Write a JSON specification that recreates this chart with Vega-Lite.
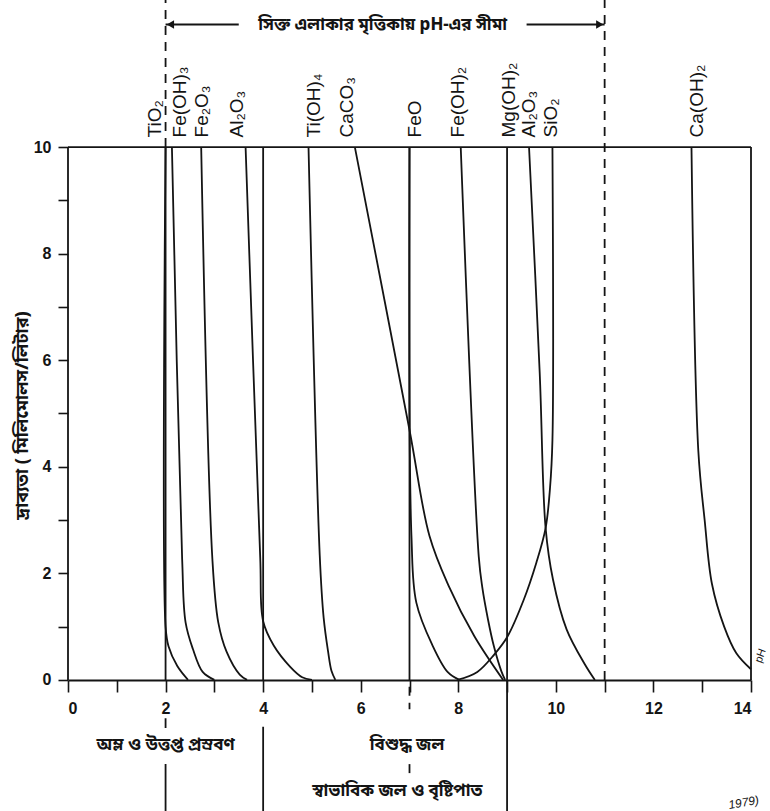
{
  "$schema": "https://vega.github.io/schema/vega-lite/v6.json",
  "width": 683,
  "height": 811,
  "autosize": {"type": "none"},
  "padding": {"left": 68, "top": 0, "right": 19, "bottom": 0},
  "background": "white",
  "config": {"view": {"stroke": null}, "axis": {"grid": false}},
  "datasets": {
    "curves": [
      {"name": "TiO2", "i": 0, "pH": 2.0, "v": 10},
      {"name": "TiO2", "i": 1, "pH": 2.0, "v": 1.0},
      {"name": "TiO2", "i": 2, "pH": 2.06, "v": 0.63},
      {"name": "TiO2", "i": 3, "pH": 2.24, "v": 0.26},
      {"name": "TiO2", "i": 4, "pH": 2.46, "v": 0},
      {"name": "Fe(OH)3", "i": 0, "pH": 2.13, "v": 10},
      {"name": "Fe(OH)3", "i": 1, "pH": 2.34, "v": 2.26},
      {"name": "Fe(OH)3", "i": 2, "pH": 2.41, "v": 1.08},
      {"name": "Fe(OH)3", "i": 3, "pH": 2.56, "v": 0.58},
      {"name": "Fe(OH)3", "i": 4, "pH": 2.76, "v": 0.15},
      {"name": "Fe(OH)3", "i": 5, "pH": 3.0, "v": 0},
      {"name": "Fe2O3", "i": 0, "pH": 2.73, "v": 10},
      {"name": "Fe2O3", "i": 1, "pH": 2.96, "v": 2.26},
      {"name": "Fe2O3", "i": 2, "pH": 3.08, "v": 1.08},
      {"name": "Fe2O3", "i": 3, "pH": 3.25, "v": 0.53},
      {"name": "Fe2O3", "i": 4, "pH": 3.52, "v": 0.1},
      {"name": "Fe2O3", "i": 5, "pH": 3.67, "v": 0},
      {"name": "Al2O3 acid", "i": 0, "pH": 3.64, "v": 10},
      {"name": "Al2O3 acid", "i": 1, "pH": 3.94, "v": 2.3},
      {"name": "Al2O3 acid", "i": 2, "pH": 4.0, "v": 1.1},
      {"name": "Al2O3 acid", "i": 3, "pH": 4.22, "v": 0.64},
      {"name": "Al2O3 acid", "i": 4, "pH": 4.55, "v": 0.25},
      {"name": "Al2O3 acid", "i": 5, "pH": 4.8, "v": 0.05},
      {"name": "Al2O3 acid", "i": 6, "pH": 5.0, "v": 0},
      {"name": "Ti(OH)4", "i": 0, "pH": 4.93, "v": 10},
      {"name": "Ti(OH)4", "i": 1, "pH": 5.16, "v": 2.34},
      {"name": "Ti(OH)4", "i": 2, "pH": 5.24, "v": 1.17},
      {"name": "Ti(OH)4", "i": 3, "pH": 5.33, "v": 0.54},
      {"name": "Ti(OH)4", "i": 4, "pH": 5.4, "v": 0.17},
      {"name": "Ti(OH)4", "i": 5, "pH": 5.48, "v": 0},
      {"name": "CaCO3", "i": 0, "pH": 5.88, "v": 10},
      {"name": "CaCO3", "i": 1, "pH": 7.0, "v": 4.69},
      {"name": "CaCO3", "i": 2, "pH": 7.41, "v": 2.7},
      {"name": "CaCO3", "i": 3, "pH": 7.8, "v": 1.77},
      {"name": "CaCO3", "i": 4, "pH": 8.33, "v": 0.82},
      {"name": "CaCO3", "i": 5, "pH": 8.92, "v": 0},
      {"name": "FeO", "i": 0, "pH": 7.0, "v": 10},
      {"name": "FeO", "i": 1, "pH": 7.04, "v": 2.7},
      {"name": "FeO", "i": 2, "pH": 7.14, "v": 1.45},
      {"name": "FeO", "i": 3, "pH": 7.47, "v": 0.65},
      {"name": "FeO", "i": 4, "pH": 7.78, "v": 0.15},
      {"name": "FeO", "i": 5, "pH": 8.02, "v": 0},
      {"name": "Fe(OH)2", "i": 0, "pH": 8.05, "v": 10},
      {"name": "Fe(OH)2", "i": 1, "pH": 8.42, "v": 2.31},
      {"name": "Fe(OH)2", "i": 2, "pH": 8.49, "v": 1.75},
      {"name": "Fe(OH)2", "i": 3, "pH": 8.61, "v": 1.13},
      {"name": "Fe(OH)2", "i": 4, "pH": 8.73, "v": 0.63},
      {"name": "Fe(OH)2", "i": 5, "pH": 8.88, "v": 0.17},
      {"name": "Fe(OH)2", "i": 6, "pH": 8.96, "v": 0},
      {"name": "Mg(OH)2", "i": 0, "pH": 9.0, "v": 10},
      {"name": "Mg(OH)2", "i": 1, "pH": 9.0, "v": 0},
      {"name": "Al2O3 alkaline", "i": 0, "pH": 9.45, "v": 10},
      {"name": "Al2O3 alkaline", "i": 1, "pH": 9.67, "v": 5.74},
      {"name": "Al2O3 alkaline", "i": 2, "pH": 9.79, "v": 2.85},
      {"name": "Al2O3 alkaline", "i": 3, "pH": 9.94, "v": 1.89},
      {"name": "Al2O3 alkaline", "i": 4, "pH": 10.22, "v": 0.95},
      {"name": "Al2O3 alkaline", "i": 5, "pH": 10.59, "v": 0.3},
      {"name": "Al2O3 alkaline", "i": 6, "pH": 10.8, "v": 0},
      {"name": "SiO2", "i": 0, "pH": 9.93, "v": 10},
      {"name": "SiO2", "i": 1, "pH": 9.93, "v": 4.5},
      {"name": "SiO2", "i": 2, "pH": 9.88, "v": 3.6},
      {"name": "SiO2", "i": 3, "pH": 9.79, "v": 2.85},
      {"name": "SiO2", "i": 4, "pH": 9.6, "v": 2.2},
      {"name": "SiO2", "i": 5, "pH": 9.34, "v": 1.5},
      {"name": "SiO2", "i": 6, "pH": 9.0, "v": 0.8},
      {"name": "SiO2", "i": 7, "pH": 8.74, "v": 0.48},
      {"name": "SiO2", "i": 8, "pH": 8.39, "v": 0.15},
      {"name": "SiO2", "i": 9, "pH": 7.98, "v": 0},
      {"name": "Ca(OH)2", "i": 0, "pH": 12.78, "v": 10},
      {"name": "Ca(OH)2", "i": 1, "pH": 12.92, "v": 4.3},
      {"name": "Ca(OH)2", "i": 2, "pH": 13.05, "v": 3.0},
      {"name": "Ca(OH)2", "i": 3, "pH": 13.2, "v": 1.8},
      {"name": "Ca(OH)2", "i": 4, "pH": 13.45, "v": 1.0},
      {"name": "Ca(OH)2", "i": 5, "pH": 13.7, "v": 0.5},
      {"name": "Ca(OH)2", "i": 6, "pH": 14.0, "v": 0.2}
    ],
    "labels": [
      {"name": "TiO₂", "pH": 1.78},
      {"name": "Fe(OH)₃", "pH": 2.3},
      {"name": "Fe₂O₃", "pH": 2.74},
      {"name": "Al₂O₃", "pH": 3.46},
      {"name": "Ti(OH)₄", "pH": 5.04},
      {"name": "CaCO₃", "pH": 5.71},
      {"name": "FeO", "pH": 7.12},
      {"name": "Fe(OH)₂", "pH": 8.0},
      {"name": "Mg(OH)₂", "pH": 9.04},
      {"name": "Al₂O₃", "pH": 9.44},
      {"name": "SiO₂", "pH": 9.9},
      {"name": "Ca(OH)₂", "pH": 12.89}
    ],
    "vsegs": [
      {"pH": 0, "v1": 0, "v2": 10, "style": "solid"},
      {"pH": 14, "v1": 0, "v2": 10, "style": "solid"},
      {"pH": 2, "v1": 0, "v2": 10, "style": "solid"},
      {"pH": 2, "v1": 10, "v2": 12.76, "style": "dashed"},
      {"pH": 2, "v1": -0.72, "v2": -0.9, "style": "solid"},
      {"pH": 2, "v1": -1.58, "v2": -2.46, "style": "solid"},
      {"pH": 4, "v1": 0, "v2": 10, "style": "solid"},
      {"pH": 4, "v1": -0.88, "v2": -2.46, "style": "solid"},
      {"pH": 7, "v1": 0, "v2": 10, "style": "solid"},
      {"pH": 7, "v1": -0.13, "v2": -0.55, "style": "dashed"},
      {"pH": 7, "v1": -1.58, "v2": -1.82, "style": "dashed"},
      {"pH": 9, "v1": -2.46, "v2": 0, "style": "solid"},
      {"pH": 11, "v1": 0, "v2": 12.76, "style": "dashed"}
    ],
    "hsegs": [
      {"x1": 0, "x2": 14, "v": 10},
      {"x1": 2.0, "x2": 3.5, "v": 12.3},
      {"x1": 9.4, "x2": 11.0, "v": 12.3}
    ],
    "heads": [
      {"pH": 2.1, "v": 12.3, "dir": "left"},
      {"pH": 10.9, "v": 12.3, "dir": "right"}
    ],
    "notes": [
      {"text": "সিক্ত এলাকার মৃত্তিকায় pH-এর সীমা", "pH": 6.45, "v": 12.3},
      {"text": "অম্ল ও উত্তপ্ত প্রস্রবণ", "pH": 2.0, "v": -1.22},
      {"text": "বিশুদ্ধ জল", "pH": 6.95, "v": -1.22},
      {"text": "স্বাভাবিক জল ও বৃষ্টিপাত", "pH": 6.75, "v": -2.08}
    ]
  },
  "layer": [
    {
      "data": {"name": "curves"},
      "mark": {"type": "line", "interpolate": "catmull-rom", "color": "#141414", "strokeWidth": 1.8},
      "encoding": {
        "x": {
          "field": "pH", "type": "quantitative",
          "scale": {"domain": [0, 14], "nice": false, "zero": false},
          "title": null,
          "axis": {
            "values": [0, 1, 2, 3, 4, 5, 6, 7, 8, 9, 10, 11, 12, 13, 14],
            "labelExpr": "datum.value % 2 === 0 ? datum.label : ''",
            "offset": -131, "tickSize": 12, "labelPadding": 8,
            "domainColor": "#141414", "domainWidth": 2,
            "tickColor": "#141414", "tickWidth": 1.6,
            "labelFont": "Liberation Sans", "labelFontSize": 16, "labelFontWeight": "bold", "labelColor": "#141414",
            "grid": false
          }
        },
        "y": {
          "field": "v", "type": "quantitative",
          "scale": {"domain": [-2.46, 12.76], "nice": false, "zero": false},
          "title": "দ্রাব্যতা ( মিলিমোলস/লিটার)",
          "axis": {
            "values": [0, 1, 2, 3, 4, 5, 6, 7, 8, 9, 10],
            "labelExpr": "datum.value % 2 === 0 ? datum.label : ''",
            "domain": false, "tickSize": 10, "labelPadding": 7,
            "tickColor": "#141414", "tickWidth": 1.6,
            "labelFont": "Liberation Sans", "labelFontSize": 16, "labelFontWeight": "bold", "labelColor": "#141414",
            "titleX": -46, "titleY": 415, "titleAngle": 270, "titleAlign": "center", "titleBaseline": "middle",
            "titleFont": "Noto Sans Bengali, Lohit Bengali, FreeSans, sans-serif", "titleFontSize": 18, "titleFontWeight": "bold", "titleColor": "#141414",
            "grid": false
          }
        },
        "detail": {"field": "name"},
        "order": {"field": "i", "type": "quantitative"}
      }
    },
    {
      "data": {"name": "vsegs"},
      "mark": {"type": "rule", "color": "#141414", "strokeWidth": 1.8},
      "encoding": {
        "x": {"field": "pH", "type": "quantitative"},
        "y": {"field": "v1", "type": "quantitative"},
        "y2": {"field": "v2"},
        "strokeDash": {"field": "style", "type": "nominal", "scale": {"domain": ["solid", "dashed"], "range": [[1, 0], [9, 7]]}, "legend": null}
      }
    },
    {
      "data": {"name": "hsegs"},
      "mark": {"type": "rule", "color": "#141414", "strokeWidth": 1.8},
      "encoding": {
        "x": {"field": "x1", "type": "quantitative"},
        "x2": {"field": "x2"},
        "y": {"field": "v", "type": "quantitative"}
      }
    },
    {
      "data": {"name": "heads"},
      "mark": {"type": "point", "filled": true, "color": "#141414", "size": 70, "opacity": 1},
      "encoding": {
        "x": {"field": "pH", "type": "quantitative"},
        "y": {"field": "v", "type": "quantitative"},
        "shape": {"field": "dir", "type": "nominal", "scale": {"domain": ["left", "right"], "range": ["triangle-left", "triangle-right"]}, "legend": null}
      }
    },
    {
      "data": {"name": "labels"},
      "mark": {"type": "text", "angle": 270, "align": "left", "baseline": "middle", "font": "Liberation Sans", "fontSize": 19, "color": "#141414"},
      "encoding": {
        "x": {"field": "pH", "type": "quantitative"},
        "y": {"datum": 10.18, "type": "quantitative"},
        "text": {"field": "name"}
      }
    },
    {
      "data": {"name": "notes"},
      "mark": {"type": "text", "align": "center", "baseline": "middle", "font": "Noto Sans Bengali, Lohit Bengali, FreeSans, sans-serif", "fontSize": 17, "fontWeight": "bold", "color": "#141414"},
      "encoding": {
        "x": {"field": "pH", "type": "quantitative"},
        "y": {"field": "v", "type": "quantitative"},
        "text": {"field": "text"}
      }
    },
    {
      "data": {"values": [{"t": "pH", "pH": 14.2, "v": 0.45}]},
      "mark": {"type": "text", "angle": 290, "align": "center", "baseline": "middle", "font": "Liberation Sans", "fontSize": 11, "color": "#141414"},
      "encoding": {
        "x": {"field": "pH", "type": "quantitative"},
        "y": {"field": "v", "type": "quantitative"},
        "text": {"field": "t"}
      }
    },
    {
      "data": {"values": [{"t": "1979)", "pH": 13.85, "v": -2.3}]},
      "mark": {"type": "text", "angle": 350, "align": "center", "baseline": "middle", "font": "Liberation Sans", "fontSize": 12, "fontStyle": "italic", "color": "#141414"},
      "encoding": {
        "x": {"field": "pH", "type": "quantitative"},
        "y": {"field": "v", "type": "quantitative"},
        "text": {"field": "t"}
      }
    }
  ]
}
